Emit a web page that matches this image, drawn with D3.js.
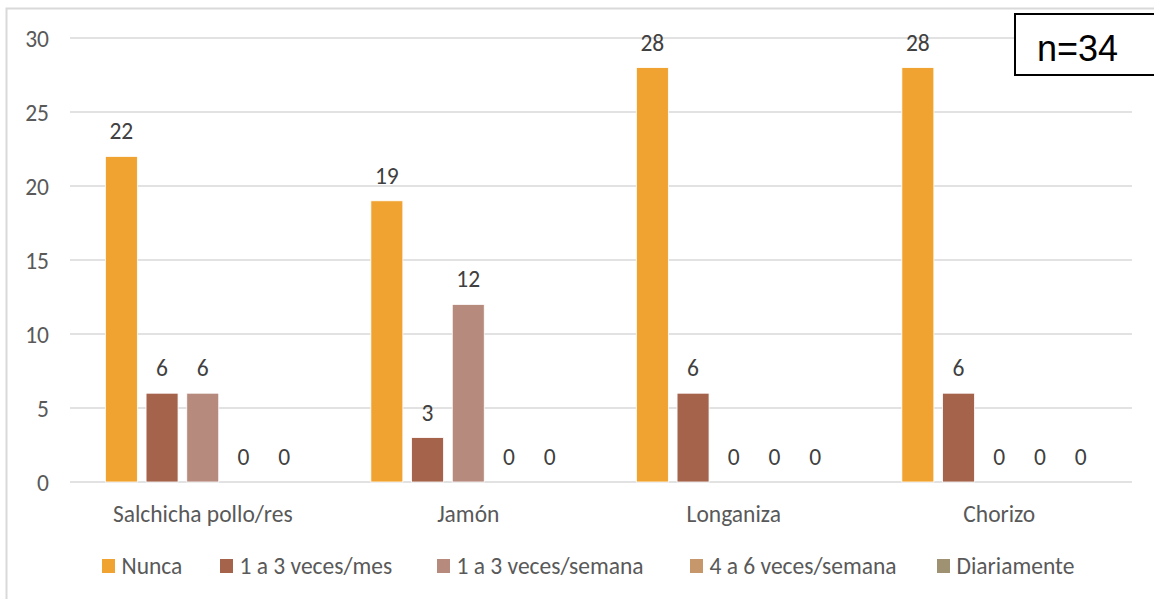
<!DOCTYPE html>
<html><head><meta charset="utf-8">
<script src="https://cdn.jsdelivr.net/npm/d3@7"></script>
<style>body{margin:0;background:#fff;}svg{display:block;}</style>
</head><body><svg id="c" width="1154" height="599"></svg>
<script>
const categories = ["Salchicha pollo/res", "Jamón", "Longaniza", "Chorizo"];
const seriesNames = ["Nunca", "1 a 3 veces/mes", "1 a 3 veces/semana", "4 a 6 veces/semana", "Diariamente"];
const nunca = [22, 19, 28, 28];
const mes13 = [6, 3, 6, 6];
const semana13 = [6, 12, 0, 0];
const semana46 = [0, 0, 0, 0];
const diariamente = [0, 0, 0, 0];
const yTicks = [0, 5, 10, 15, 20, 25, 30];
const colors = ["#F0A330", "#A5634B", "#B68A7D", "#C6976A", "#9E9272"];
const seriesValues = [nunca, mes13, semana13, semana46, diariamente];

const svg = d3.select("#c");
const fontLab = "Carlito, Calibri, 'Open Sans', sans-serif";
const fs = 23.5;

// outer border
svg.append("rect").attr("x", 6.5).attr("y", 8.5).attr("width", 1160).attr("height", 600)
  .attr("fill", "none").attr("stroke", "#d9d9d9").attr("stroke-width", 2);

const L = 70, R = 1132, T = 38, B = 482;
const y = d3.scaleLinear().domain([0, 30]).range([B, T]);
const x0 = d3.scaleBand().domain(categories).range([L, R]).padding(0);
const x1 = d3.scaleBand().domain(seriesNames).range([0, x0.bandwidth()]).paddingInner(0.214).paddingOuter(0.869);

// gridlines
svg.append("g").selectAll("line").data(yTicks).join("line")
  .attr("x1", L).attr("x2", R).attr("y1", d => y(d)).attr("y2", d => y(d))
  .attr("stroke", "#d9d9d9").attr("stroke-width", 1.3);

// y axis labels
const yAxis = d3.axisLeft(y).tickValues(yTicks).tickSize(0).tickPadding(0);
const ya = svg.append("g").attr("transform", `translate(49,0)`).call(yAxis);
ya.select(".domain").remove();
ya.selectAll("text").attr("font-family", fontLab).attr("font-size", fs).attr("fill", "#595959")
  .attr("text-anchor", "end").attr("dy", "0.36em");

// x axis labels
const xAxis = d3.axisBottom(x0).tickSize(0).tickPadding(0);
const xa = svg.append("g").call(xAxis);
xa.select(".domain").remove();
xa.selectAll("text").attr("font-family", fontLab).attr("font-size", fs).attr("fill", "#595959")
  .attr("y", 522).attr("dy", null);

// bars
const data = [];
categories.forEach((c, i) => seriesNames.forEach((s, j) => data.push({c, s, j, i, v: seriesValues[j][i]})));
svg.append("g").selectAll("rect").data(data.filter(d => d.v > 0)).join("rect")
  .attr("x", d => x0(d.c) + x1(d.s)).attr("width", x1.bandwidth())
  .attr("y", d => y(d.v)).attr("height", d => y(0) - y(d.v))
  .attr("fill", d => colors[d.j]).attr("stroke", "#fff").attr("stroke-width", 0.8);

// data labels
svg.append("g").selectAll("text").data(data).join("text")
  .attr("x", d => x0(d.c) + x1(d.s) + x1.bandwidth() / 2)
  .attr("y", d => y(d.v) - 17)
  .attr("text-anchor", "middle").attr("font-family", fontLab).attr("font-size", fs).attr("fill", "#404040")
  .text(d => d.v);

// legend
const legendX = [102, 220, 437, 690, 937];
const lg = svg.append("g").selectAll("g").data(seriesNames).join("g")
  .attr("transform", (d, i) => `translate(${legendX[i]},559)`);
lg.append("rect").attr("width", 13).attr("height", 14).attr("fill", (d, i) => colors[i]);
lg.append("text").attr("x", 19.5).attr("y", 15)
  .attr("font-family", fontLab).attr("font-size", fs).attr("fill", "#595959").text(d => d);

// n=34 box
svg.append("rect").attr("x", 1015).attr("y", 14).attr("width", 160).attr("height", 61)
  .attr("fill", "#fff").attr("stroke", "#000").attr("stroke-width", 2);
svg.append("text").attr("x", 1037).attr("y", 61).attr("font-family", "'Liberation Sans', Arial, sans-serif")
  .attr("font-size", 36).attr("fill", "#000").text("n=34");
</script></body></html>
